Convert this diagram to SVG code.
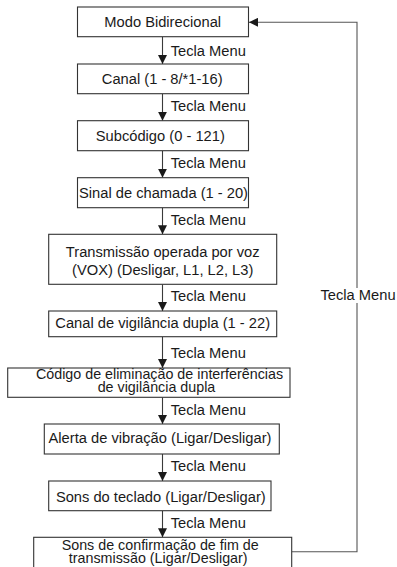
<svg xmlns="http://www.w3.org/2000/svg" width="397" height="567" viewBox="0 0 397 567">
<defs>
<style>
.box{fill:#fff;stroke:#333;stroke-width:1.1}
.t{font-family:"Liberation Sans",Arial,sans-serif;font-size:14.7px;fill:#1a1a1a;text-anchor:middle}
.t2{font-family:"Liberation Sans",Arial,sans-serif;font-size:14.3px;fill:#1a1a1a;text-anchor:middle}
.lbl{font-family:"Liberation Sans",Arial,sans-serif;font-size:14.7px;fill:#1a1a1a}
.ln{fill:none;stroke:#3a3a3a;stroke-width:1.1}
.rl{fill:none;stroke:#555;stroke-width:1.1}
</style>
<marker id="ah" viewBox="0 0 10 10" refX="10" refY="5" markerWidth="9" markerHeight="9" markerUnits="userSpaceOnUse" orient="auto">
<path d="M0,0 L10,5 L0,10 Z" fill="#1a1a1a"/>
</marker>
</defs>
<rect width="397" height="567" fill="#fff"/>
<g id="connectors">
<path class="ln" d="M162.5,36.7 V64" marker-end="url(#ah)"/>
<path class="ln" d="M162.5,93.7 V120.7" marker-end="url(#ah)"/>
<path class="ln" d="M162.5,150.7 V177.7" marker-end="url(#ah)"/>
<path class="ln" d="M162.5,207.7 V234.3" marker-end="url(#ah)"/>
<path class="ln" d="M162.5,284.3 V311" marker-end="url(#ah)"/>
<path class="ln" d="M162.5,336.7 V368" marker-end="url(#ah)"/>
<path class="ln" d="M162.5,397.3 V424" marker-end="url(#ah)"/>
<path class="ln" d="M162.5,454 V481" marker-end="url(#ah)"/>
<path class="ln" d="M162.5,510.7 V537.3" marker-end="url(#ah)"/>
<path class="rl" d="M291.7,551.7 H357 V303"/>
<path class="rl" d="M357,288 V22.3 H249" marker-end="url(#ah)"/>
<text class="lbl" x="170.7" y="56">Tecla Menu</text>
<text class="lbl" x="170.7" y="111">Tecla Menu</text>
<text class="lbl" x="170.7" y="168">Tecla Menu</text>
<text class="lbl" x="170.7" y="225">Tecla Menu</text>
<text class="lbl" x="170.7" y="301">Tecla Menu</text>
<text class="lbl" x="170.7" y="358">Tecla Menu</text>
<text class="lbl" x="170.7" y="414.5">Tecla Menu</text>
<text class="lbl" x="170.7" y="471">Tecla Menu</text>
<text class="lbl" x="170.7" y="527.5">Tecla Menu</text>
<text class="lbl" x="320.5" y="300">Tecla Menu</text>
</g>
<g id="n1"><rect class="box" x="77.5" y="7" width="171" height="29.7"/><text class="t" x="162.7" y="27">Modo Bidirecional</text></g>
<g id="n2"><rect class="box" x="77.5" y="64" width="171" height="29.7"/><text class="t" x="162.2" y="84">Canal (1 - 8/*1-16)</text></g>
<g id="n3"><rect class="box" x="77.5" y="120.7" width="171" height="30"/><text class="t" x="160.3" y="140.7">Subcódigo (0 - 121)</text></g>
<g id="n4"><rect class="box" x="77.5" y="177.7" width="171" height="30"/><text class="t" x="163.5" y="197.5">Sinal de chamada (1 - 20)</text></g>
<g id="n5"><rect class="box" x="48.7" y="234.3" width="228" height="50"/><text class="t" x="162.7" y="256.7">Transmissão operada por voz</text><text class="t" x="162.7" y="275">(VOX) (Desligar, L1, L2, L3)</text></g>
<g id="n6"><rect class="box" x="48.7" y="311" width="228" height="25.7"/><text class="t" x="162.7" y="328.3">Canal de vigilância dupla (1 - 22)</text></g>
<g id="n7"><rect class="box" x="7.7" y="368" width="282.3" height="29.3"/><text class="t2" x="159.5" y="378.7">Código de eliminação de interferências</text><text class="t2" x="156.5" y="391.7">de vigilância dupla</text></g>
<g id="n8"><rect class="box" x="44.3" y="424" width="235" height="30"/><text class="t" x="160" y="443">Alerta de vibração (Ligar/Desligar)</text></g>
<g id="n9"><rect class="box" x="48.7" y="481" width="222.3" height="29.7"/><text class="t" x="160.8" y="501.5">Sons do teclado (Ligar/Desligar)</text></g>
<g id="n10"><rect class="box" x="33.7" y="537.3" width="258" height="40"/><text class="t2" x="160.2" y="550.3">Sons de confirmação de fim de</text><text class="t2" x="158.2" y="563.3">transmissão (Ligar/Desligar)</text></g>
</svg>
